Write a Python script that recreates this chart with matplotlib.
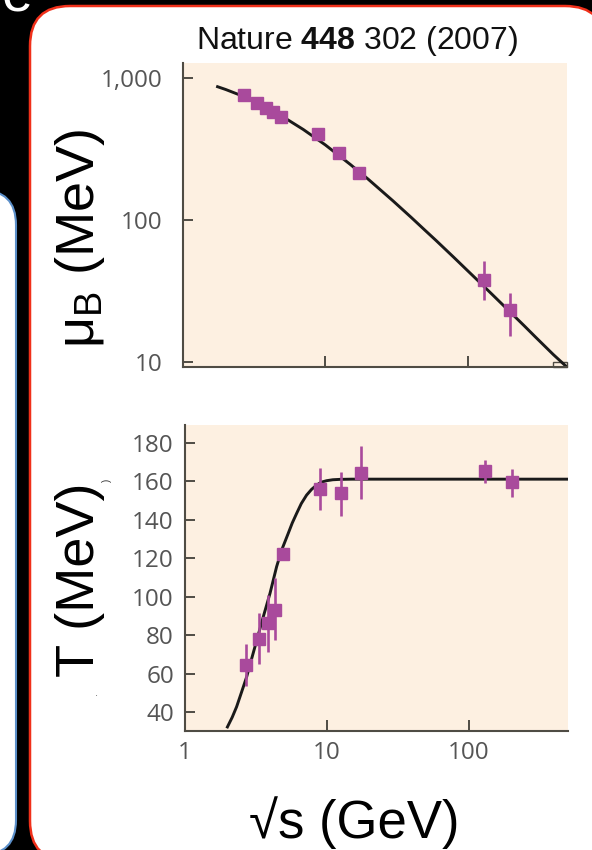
import matplotlib
matplotlib.use('Agg')
import matplotlib.pyplot as plt
from matplotlib.patches import FancyBboxPatch, Rectangle
from matplotlib.ticker import FixedLocator, NullLocator, FixedFormatter

# --- dados (Nature 448 302, 2007) ---
sqrt_s = [2.7, 3.3, 3.85, 4.3, 4.9, 8.9, 12.5, 17.3, 130, 200]

mu_b = [759, 670, 611, 579, 534, 403, 298, 213, 37.8, 23.2]
mu_b_lo = [759, 670, 611, 579, 534, 403, 268, 213, 27.3, 15.2]
mu_b_hi = [759, 670, 611, 579, 534, 403, 328, 213, 51.4, 30.8]

temp = [64.4, 77.9, 86.1, 93, 122, 155.9, 154.1, 164.5, 165.4, 159.5]
temp_lo = [53.5, 64.9, 71.3, 77.4, 122, 145.1, 142, 150.8, 159.3, 151.7]
temp_hi = [75.2, 91.3, 100.8, 109.5, 122, 166.8, 165, 178.4, 171.1, 166.5]

# curvas (pontos lidos ao longo da linha preta)
curve_mu_x = [1.75, 2, 2.5, 3, 4, 5, 7, 10, 15, 20, 30, 40, 50, 60, 80, 100, 120, 150,
              200, 250, 300, 400, 500]
curve_mu_y = [868, 829, 760, 701, 608, 536, 434, 338, 246, 194, 136, 104.7, 85, 71.8, 54.6,
              44, 36.9, 29.7, 22.4, 18.0, 15.0, 11.3, 9.2]

curve_t_x = [1.99, 2.15, 2.31, 2.5, 2.72, 2.9, 3.11, 3.33, 3.56, 3.97, 4.42, 4.80, 5.34,
             5.7, 6.12, 6.6, 7.19, 7.8, 8.46, 9.1, 9.95, 11, 12.4, 15, 20, 500]
curve_t_y = [32.2, 37.2, 42.7, 50.2, 58.3, 65.8, 73.9, 81.8, 89.5, 101.7, 115.6, 124.3, 133,
             138.4, 143.4, 148.5, 152.9, 155.9, 158.1, 159.6, 160.4, 160.9, 161.1, 161.2,
             161.2, 161.2]

mu_ticks = [10, 100, 1000]
mu_tick_labels = ['10', '100', '1,000']
t_ticks = [40, 60, 80, 100, 120, 140, 160, 180]
x_ticks = [1, 10, 100]
x_tick_labels = ['1', '10', '100']

plt.rcParams['mathtext.fontset'] = 'custom'
plt.rcParams['mathtext.rm'] = 'Liberation Sans'
plt.rcParams['mathtext.bf'] = 'Liberation Sans:bold'

PEACH = '#fdf0e1'
MAGENTA = '#a94a9c'
SPINE = '#4f4c44'
TICKTXT = '#555555'
SANS = ['Liberation Sans', 'DejaVu Sans']

fig = plt.figure(figsize=(5.92, 8.5), dpi=100)
fig.patch.set_facecolor('black')

# fundo do slide: painel branco com borda vermelha, painel azul cortado a esquerda
bg = fig.add_axes([0, 0, 1, 1], zorder=-1)
bg.set_xlim(0, 592)
bg.set_ylim(850, 0)
bg.axis('off')
bg.add_patch(FancyBboxPatch((30, 6), 575, 855, boxstyle='round,pad=0,rounding_size=40',
                            facecolor='white', edgecolor='#f0301a', linewidth=1.8))
bg.add_patch(FancyBboxPatch((-80, 190), 96, 665, boxstyle='round,pad=0,rounding_size=35',
                            facecolor='white', edgecolor='#5b8fc9', linewidth=1.5))
bg.text(2, 11, 'e', color='white', fontsize=40, family=SANS, va='baseline', ha='left')


def style_axes(ax):
    ax.set_facecolor(PEACH)
    ax.spines['top'].set_visible(False)
    ax.spines['right'].set_visible(False)
    for s in ('left', 'bottom'):
        ax.spines[s].set_color(SPINE)
        ax.spines[s].set_linewidth(1.5)
    ax.tick_params(axis='both', direction='in', color=SPINE, width=1.4,
                   labelcolor=TICKTXT, labelsize=17.5)
    ax.tick_params(axis='y', length=7)
    ax.tick_params(axis='x', length=8)
    ax.xaxis.set_minor_locator(NullLocator())
    ax.yaxis.set_minor_locator(NullLocator())
    for lab in ax.get_xticklabels() + ax.get_yticklabels():
        lab.set_family('Open Sans')


# --- GRAFICO 1: potencial quimico barionico ---
ax1 = fig.add_axes([183 / 592, 1 - 367 / 850, 384 / 592, 304 / 850])
ax1.set_xscale('log')
ax1.set_yscale('log')
ax1.plot(curve_mu_x, curve_mu_y, color='#1a1a1a', linewidth=2.1, zorder=2,
         solid_joinstyle='round')
ax1.errorbar(sqrt_s, mu_b,
             yerr=[[m - lo for m, lo in zip(mu_b, mu_b_lo)], [hi - m for m, hi in zip(mu_b, mu_b_hi)]],
             fmt='s', color=MAGENTA, markersize=8, elinewidth=1.9, capsize=0, zorder=3)
ax1.set_xlim(1, 500)
ax1.set_ylim(9.22, 1275)
ax1.xaxis.set_major_locator(FixedLocator([10, 100]))
ax1.xaxis.set_major_formatter(FixedFormatter(['', '']))
ax1.yaxis.set_major_locator(FixedLocator(mu_ticks))
ax1.yaxis.set_major_formatter(FixedFormatter(mu_tick_labels))
style_axes(ax1)
ax1.tick_params(axis='y', pad=15)
ax1.add_patch(Rectangle((0.9635, 0.0), 0.0365, 0.0164, transform=ax1.transAxes,
                        fill=False, edgecolor=SPINE, linewidth=1.0, clip_on=False))

# --- GRAFICO 2: temperatura de freeze-out ---
ax2 = fig.add_axes([185 / 592, 1 - 731 / 850, 383 / 592, 306 / 850])
ax2.set_xscale('log')
ax2.plot(curve_t_x, curve_t_y, color='#1a1a1a', linewidth=2.1, zorder=2,
         solid_joinstyle='round')
ax2.errorbar(sqrt_s, temp,
             yerr=[[t - lo for t, lo in zip(temp, temp_lo)], [hi - t for t, hi in zip(temp, temp_hi)]],
             fmt='s', color=MAGENTA, markersize=8, elinewidth=1.9, capsize=0, zorder=3)
ax2.set_xlim(1, 500)
ax2.set_ylim(30.1, 189.4)
ax2.xaxis.set_major_locator(FixedLocator(x_ticks))
ax2.xaxis.set_major_formatter(FixedFormatter(x_tick_labels))
ax2.yaxis.set_major_locator(FixedLocator(t_ticks))
style_axes(ax2)
ax2.tick_params(axis='y', pad=8)
ax2.tick_params(axis='x', pad=7)

# titulos e rotulos
fig.text(357 / 592, 1 - 49 / 850, r'Nature $\mathbf{448}$ 302 (2007)', fontsize=23,
         family=SANS, ha='center', va='baseline', color='#111111')
fig.text(80 / 592, 1 - 238 / 850, r'μ$_\mathrm{B}$ (MeV)', fontsize=39, family=SANS,
         rotation=90, ha='center', va='center', color='black')
fig.text(80 / 592, 1 - 580 / 850, 'T (MeV)', fontsize=39, family=SANS,
         rotation=90, ha='center', va='center', color='black')
fig.text(107 / 592, 1 - 480 / 850, ')', fontsize=7, family=SANS,
         rotation=90, ha='center', va='center', color='#333333')
fig.text(97 / 592, 1 - 693 / 850, '.', fontsize=8, family=SANS,
         ha='center', va='center', color='#666666')
fig.text(354 / 592, 1 - 838 / 850, '√s (GeV)', fontsize=38, family=SANS,
         ha='center', va='baseline', color='black')

plt.savefig('out.png', dpi=100, facecolor=fig.get_facecolor())
